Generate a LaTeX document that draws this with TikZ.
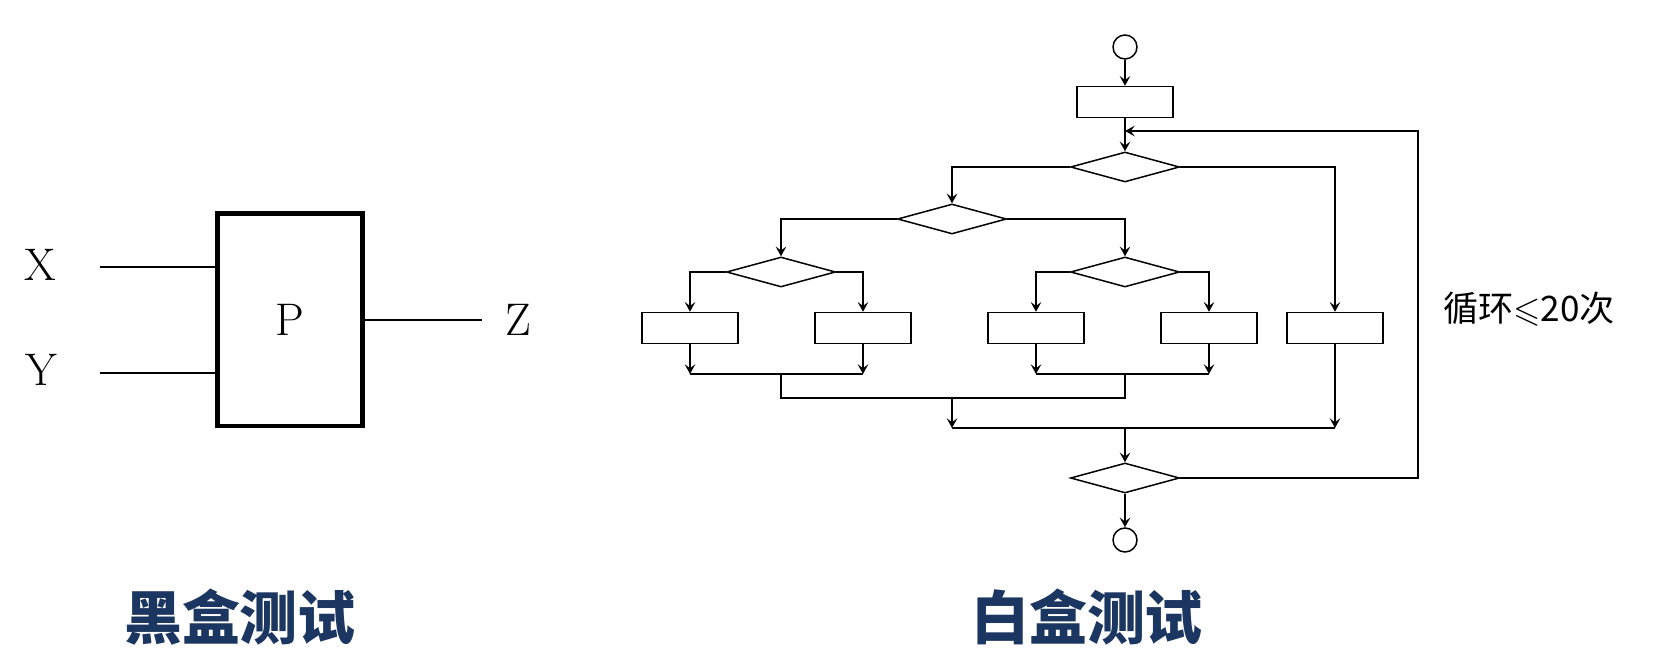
\documentclass[tikz,border=0pt]{standalone}
\usepackage{fontspec}
\usepackage{amssymb}
\newfontfamily\cjk{Noto Sans CJK SC}
\usetikzlibrary{arrows.meta,shapes.geometric}
\definecolor{titleblue}{RGB}{27,54,96}
\begin{document}
\begin{tikzpicture}[x=0.02cm,y=-0.02cm,line width=0.85pt,
    >={Stealth[length=5.5pt,width=6pt,inset=2.2pt]},
    blk/.style={draw,rectangle,minimum width=1.92cm,minimum height=0.62cm,inner sep=0pt},
    dec/.style={draw,diamond,minimum width=2.18cm,minimum height=0.6cm,inner sep=0pt},
    term/.style={draw,circle,minimum size=0.48cm,inner sep=0pt},
    lbl/.style={font=\fontsize{26}{30}\selectfont},
    title/.style={font=\cjk\bfseries\fontsize{33}{38}\selectfont,text=titleblue}]
  \useasboundingbox (0,0) rectangle (1654,668);
  % black box
  \node[draw,lbl,line width=2.3pt,minimum width=2.9cm,minimum height=4.26cm] (p) at (290,320) {P};
  \node[lbl] (x) at (40,265) {X};
  \node[lbl] (y) at (41,370) {Y};
  \node[lbl] (z) at (518,320) {Z};
  \coordinate (xin) at (100,267);
  \coordinate (yin) at (100,373);
  \coordinate (zout) at (482,320);
  \draw (xin) -- (xin -| p.west);
  \draw (yin) -- (yin -| p.west);
  \draw (p.east) -- (zout);
  % white box
  \node[term] (s) at (1125,47) {};
  \node[blk] (b0) at (1125,102) {};
  \node[dec] (d1) at (1125,167) {};
  \node[dec] (d2) at (952,219) {};
  \node[dec] (d3) at (781,272) {};
  \node[dec] (d4) at (1125,272) {};
  \node[blk] (b1) at (690,328) {};
  \node[blk] (b2) at (863,328) {};
  \node[blk] (b3) at (1036,328) {};
  \node[blk] (b4) at (1209,328) {};
  \node[blk] (b5) at (1335,328) {};
  \node[dec] (d5) at (1125,478) {};
  \node[term] (e) at (1125,540) {};
  \coordinate (m1) at (781,374);
  \coordinate (m2) at (1125,374);
  \coordinate (j) at (952,398);
  \coordinate (k) at (952,428);
  \coordinate (loop) at (1418,131);
  \draw[->] (s) -- (b0);
  \draw[->] (b0) -- (d1);
  \draw[->] (d1.west) -| (d2.north);
  \draw[->] (d1.east) -| (b5.north);
  \draw[->] (d2.west) -| (d3.north);
  \draw[->] (d2.east) -| (d4.north);
  \draw[->] (d3.west) -| (b1.north);
  \draw[->] (d3.east) -| (b2.north);
  \draw[->] (d4.west) -| (b3.north);
  \draw[->] (d4.east) -| (b4.north);
  \foreach \b in {b1,b2,b3,b4}
    \draw[->] (\b.south) -- (\b.south |- m1);
  \draw (b1.south |- m1) -- (b2.south |- m1);
  \draw (b3.south |- m2) -- (b4.south |- m2);
  \draw (m1) -- (m1 |- j) -- (m2 |- j) -- (m2);
  \draw[->] (j) -- (k);
  \draw (k) -- (k -| b5.south);
  \draw[->] (b5.south) -- (b5.south |- k);
  \draw[->] (k -| d5.north) -- (d5.north);
  \draw[->] (d5.south) -- (e);
  \draw[->] (d5.east) -| (loop) -- (loop -| b0.south);
  \node[font=\cjk\fontsize{20}{24}\selectfont] (cnt) at (1529,309) {循环$\leqslant$20次};
  % titles
  \node[title] (bb) at (240,617) {黑盒测试};
  \node[title] (wb) at (1087,617) {白盒测试};
\end{tikzpicture}
\end{document}
